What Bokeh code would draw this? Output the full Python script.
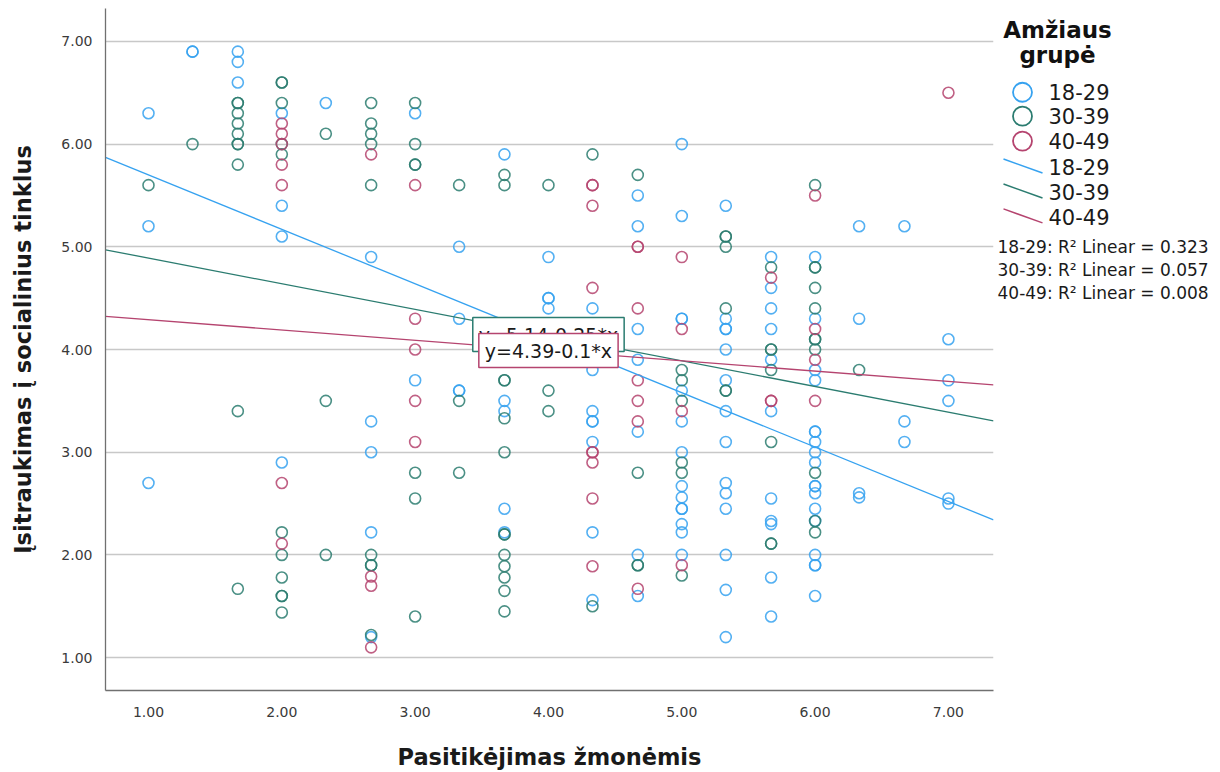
from bokeh.plotting import figure
from bokeh.layouts import row
from bokeh.models import Range1d, FixedTicker, Label
from bokeh.embed import file_html
from bokeh.resources import INLINE

# ---------------- data ----------------
groups = ["18-29", "30-39", "40-49"]
colors = ["#36a2f0", "#2b7c70", "#b5446f"]

x_18_29 = ([1.00] * 3 + [1.33] * 2 + [1.67] * 3 + [2.00] * 4 + [2.33] * 1 + [2.67] * 5 +
           [3.00] * 2 + [3.33] * 4 + [3.67] * 5 + [4.00] * 4 + [4.33] * 8 + [4.67] * 7 +
           [5.00] * 14 + [5.33] * 14 + [5.67] * 11 + [6.00] * 18 + [6.33] * 4 + [6.67] * 3 +
           [7.00] * 5)
y_18_29 = [6.3, 5.2, 2.7,
           6.9, 6.9,
           6.9, 6.8, 6.6,
           6.3, 5.4, 5.1, 2.9,
           6.4,
           4.9, 3.3, 3.0, 2.22, 1.2,
           6.3, 3.7,
           5.0, 4.3, 3.6, 3.6,
           5.9, 3.5, 3.4, 2.45, 2.22,
           4.9, 4.5, 4.5, 4.4,
           4.4, 3.8, 3.4, 3.3, 3.3, 3.1, 2.22, 1.56,
           5.5, 5.2, 4.2, 3.9, 3.2, 2.0, 1.6,
           6.0, 5.3, 4.3, 4.3, 3.6, 3.3, 3.0, 2.67, 2.56, 2.45, 2.45, 2.3, 2.22, 2.0,
           5.4, 4.3, 4.2, 4.2, 4.0, 3.7, 3.4, 3.1, 2.7, 2.6, 2.45, 2.0, 1.66, 1.2,
           4.9, 4.6, 4.4, 4.2, 3.9, 3.4, 2.55, 2.33, 2.3, 1.78, 1.4,
           4.9, 4.3, 3.8, 3.7, 3.2, 3.2, 3.1, 3.0, 2.9, 2.67, 2.67, 2.6, 2.45, 2.33, 2.0, 1.9, 1.9, 1.6,
           5.2, 4.3, 2.6, 2.56,
           5.2, 3.3, 3.1,
           4.1, 3.7, 3.5, 2.55, 2.5]

x_30_39 = ([1.00] * 1 + [1.33] * 1 + [1.67] * 10 + [2.00] * 11 + [2.33] * 3 + [2.67] * 9 +
           [3.00] * 7 + [3.33] * 3 + [3.67] * 13 + [4.00] * 3 + [4.33] * 2 + [4.67] * 4 +
           [5.00] * 6 + [5.33] * 6 + [5.67] * 7 + [6.00] * 11 + [6.33] * 1)
y_30_39 = [5.6,
           6.0,
           6.4, 6.4, 6.3, 6.2, 6.1, 6.0, 6.0, 5.8, 3.4, 1.67,
           6.6, 6.6, 6.4, 6.0, 5.9, 2.22, 2.0, 1.78, 1.6, 1.6, 1.44,
           6.1, 3.5, 2.0,
           6.4, 6.2, 6.1, 6.0, 5.6, 2.0, 1.9, 1.9, 1.22,
           6.4, 6.0, 5.8, 5.8, 2.8, 2.55, 1.4,
           5.6, 3.5, 2.8,
           5.7, 5.6, 3.7, 3.7, 3.33, 3.0, 2.2, 2.2, 2.0, 1.89, 1.78, 1.65, 1.45,
           5.6, 3.6, 3.4,
           5.9, 1.5,
           5.7, 2.8, 1.9, 1.9,
           3.8, 3.7, 3.5, 2.9, 2.8, 1.8,
           5.1, 5.1, 5.0, 4.4, 3.6, 3.6,
           4.8, 4.0, 4.0, 3.8, 3.1, 2.11, 2.11,
           5.6, 4.8, 4.8, 4.6, 4.4, 4.1, 4.1, 4.0, 2.8, 2.33, 2.22,
           3.8]

x_40_49 = ([2.00] * 7 + [2.67] * 4 + [3.00] * 5 + [4.33] * 9 + [4.67] * 7 + [5.00] * 4 +
           [5.67] * 3 + [6.00] * 4 + [7.00] * 1)
y_40_49 = [6.2, 6.1, 6.0, 5.8, 5.6, 2.7, 2.11,
           5.9, 1.79, 1.70, 1.10,
           5.6, 4.3, 4.0, 3.5, 3.1,
           5.6, 5.6, 5.4, 4.6, 3.0, 3.0, 2.9, 2.55, 1.89,
           5.0, 5.0, 4.4, 3.7, 3.5, 3.3, 1.67,
           4.9, 4.2, 3.4, 1.9,
           4.7, 3.5, 3.5,
           5.5, 4.2, 3.9, 3.5,
           6.5]

intercepts = [6.23, 5.14, 4.39]
slopes = [-0.53, -0.25, -0.10]
r_squared = [0.323, 0.057, 0.008]
eq_texts = ["y=6.23-0.53*x", "y=5.14-0.25*x", "y=4.39-0.1*x"]

tick_values = [1, 2, 3, 4, 5, 6, 7]
tick_labels = ["1.00", "2.00", "3.00", "4.00", "5.00", "6.00", "7.00"]

x_title = "Pasitikėjimas žmonėmis"
y_title = "Įsitraukimas į socialinius tinklus"
legend_title = ["Amžiaus", "grupė"]

# ---------------- main plot ----------------
X0, X1 = 0.6775, 7.338
Y0, Y1 = 0.68, 7.32
FONT = "DejaVu Sans"
H = 772
FT, FB = 8, 692  # frame top / bottom (px)

p = figure(width=997, height=H, x_range=Range1d(X0, X1), y_range=Range1d(Y0, Y1),
           output_backend="svg", toolbar_location=None,
           min_border_left=105, min_border_right=4, min_border_top=FT, min_border_bottom=H - FB)
p.outline_line_color = None
p.background_fill_color = "white"

ticker = FixedTicker(ticks=tick_values)
for ax in (p.xaxis[0], p.yaxis[0]):
    ax.ticker = ticker
    ax.major_label_overrides = {v: s for v, s in zip(tick_values, tick_labels)}
    ax.major_tick_in = 0
    ax.major_tick_out = 0
    ax.minor_tick_in = 0
    ax.minor_tick_out = 0
    ax.axis_line_color = "#707070"
    ax.axis_line_width = 1.3
    ax.major_label_text_font = FONT
    ax.major_label_text_font_size = "14px"
    ax.major_label_text_color = "#3a3a3a"
    ax.axis_label_text_font = FONT
    ax.axis_label_text_font_style = "bold"
    ax.axis_label_text_font_size = "22.5px"
    ax.axis_label_text_color = "#1a1a1a"

p.xaxis.axis_label = x_title
p.yaxis.axis_label = y_title
p.xaxis.major_label_standoff = 16
p.yaxis.major_label_standoff = 13
p.xaxis.axis_label_standoff = 24
p.yaxis.axis_label_standoff = 22

p.xgrid.visible = False
p.ygrid.ticker = ticker
p.ygrid.grid_line_color = "#c8c8c8"
p.ygrid.grid_line_width = 1.5

series = [(x_18_29, y_18_29), (x_30_39, y_30_39), (x_40_49, y_40_49)]
for (xs, ys), c in zip(series, colors):
    p.scatter(xs, ys, marker="circle", size=11, fill_color=None,
              line_color=c, line_width=1.6, line_alpha=0.85)

for a, b, c in zip(intercepts, slopes, colors):
    p.line([X0, X1], [a + b * X0, a + b * X1], line_color=c, line_width=1.3)

# equation labels (the 30-39 one sits behind the 40-49 one)
eq_pos = [(4.0, 4.146, 1), (4.0, 3.99, 2)]
for lx, ly, i in eq_pos:
    p.add_layout(Label(x=lx, y=ly, text=eq_texts[i], text_align="center",
                       text_baseline="middle", text_font=FONT, text_font_size="19px",
                       text_color="#1a1a1a", background_fill_color="white",
                       border_line_color=colors[i], border_line_width=1.5, padding=6))

# ---------------- legend panel (coordinates = page pixels) ----------------
LX0, LX1 = 997, 1212
lg = figure(width=LX1 - LX0, height=H, x_range=Range1d(LX0, LX1), y_range=Range1d(FB, FT),
            output_backend="svg", toolbar_location=None,
            x_axis_location=None, y_axis_location=None,
            min_border_left=0, min_border_right=0, min_border_top=FT, min_border_bottom=H - FB)
lg.outline_line_color = None
lg.grid.visible = False

for t, ty in zip(legend_title, [30, 55]):
    lg.add_layout(Label(x=1057, y=ty, text=t, text_align="center", text_baseline="middle",
                        text_font=FONT, text_font_style="bold", text_font_size="23px",
                        text_color="#111111"))

marker_rows = [92, 116, 141]
line_rows = [166, 191, 216]
for i, (g, c) in enumerate(zip(groups, colors)):
    my = marker_rows[i]
    lg.scatter([1022], [my], marker="circle", size=19, fill_color=None, line_color=c, line_width=1.8)
    lg.add_layout(Label(x=1048, y=my, text=g, text_align="left", text_baseline="middle",
                        text_font=FONT, text_font_size="21px", text_color="#1a1a1a"))
    ly = line_rows[i]
    lg.line([1003, 1042], [ly - 7, ly + 7], line_color=c, line_width=1.5)
    lg.add_layout(Label(x=1048, y=ly + 1, text=g, text_align="left", text_baseline="middle",
                        text_font=FONT, text_font_size="21px", text_color="#1a1a1a"))

r2_rows = [247, 270, 293]
for g, r, yy in zip(groups, r_squared, r2_rows):
    lg.add_layout(Label(x=997, y=yy, text=f"{g}: R² Linear = {r:.3f}", text_align="left",
                        text_baseline="middle", text_font=FONT, text_font_size="17px",
                        text_color="#1a1a1a"))

layout = row(p, lg)
open("out.html", "w").write(file_html(layout, INLINE))
